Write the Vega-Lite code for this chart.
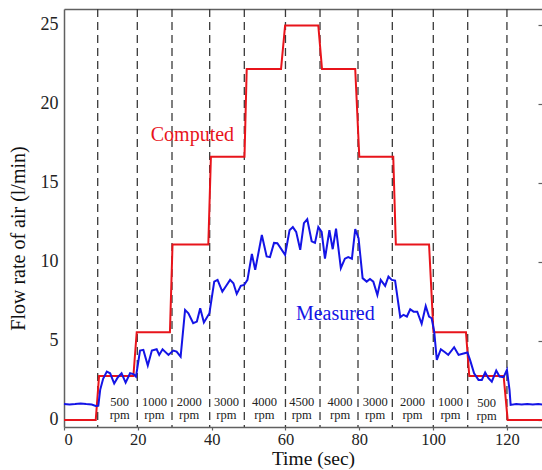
{
  "$schema": "https://vega.github.io/schema/vega-lite/v6.json",
  "width": 478,
  "height": 418,
  "autosize": {"type": "none"},
  "padding": {"left": 64, "top": 9, "right": 0, "bottom": 43},
  "background": "white",
  "config": {"view": {"stroke": null}, "font": "Liberation Serif, Times New Roman, DejaVu Serif, serif"},
  "datasets": {
    "dividers": [
      {"t": 9.13}, {"t": 19.86}, {"t": 29.26}, {"t": 39.47}, {"t": 48.85}, {"t": 60.0},
      {"t": 69.36}, {"t": 79.65}, {"t": 88.95}, {"t": 100.05}, {"t": 109.37}, {"t": 120.0}
    ],
    "series": [
      {"series": "Computed", "t": 0, "v": 0},
      {"series": "Computed", "t": 8.6, "v": 0},
      {"series": "Computed", "t": 9.5, "v": 2.78},
      {"series": "Computed", "t": 18.8, "v": 2.78},
      {"series": "Computed", "t": 19.7, "v": 5.55},
      {"series": "Computed", "t": 28.7, "v": 5.55},
      {"series": "Computed", "t": 29.4, "v": 11.1},
      {"series": "Computed", "t": 39.1, "v": 11.1},
      {"series": "Computed", "t": 39.8, "v": 16.65},
      {"series": "Computed", "t": 48.9, "v": 16.65},
      {"series": "Computed", "t": 49.5, "v": 22.2},
      {"series": "Computed", "t": 58.8, "v": 22.2},
      {"series": "Computed", "t": 59.9, "v": 24.95},
      {"series": "Computed", "t": 68.9, "v": 24.95},
      {"series": "Computed", "t": 69.9, "v": 22.2},
      {"series": "Computed", "t": 78.9, "v": 22.2},
      {"series": "Computed", "t": 80.0, "v": 16.65},
      {"series": "Computed", "t": 89.2, "v": 16.65},
      {"series": "Computed", "t": 89.9, "v": 11.1},
      {"series": "Computed", "t": 98.9, "v": 11.1},
      {"series": "Computed", "t": 100.1, "v": 5.55},
      {"series": "Computed", "t": 108.9, "v": 5.55},
      {"series": "Computed", "t": 109.8, "v": 2.78},
      {"series": "Computed", "t": 119.1, "v": 2.78},
      {"series": "Computed", "t": 120.2, "v": 0},
      {"series": "Computed", "t": 129.5, "v": 0},
      {"series": "Measured", "t": 0, "v": 1.0},
      {"series": "Measured", "t": 1.5, "v": 0.98},
      {"series": "Measured", "t": 3, "v": 1.0},
      {"series": "Measured", "t": 4.5, "v": 1.04},
      {"series": "Measured", "t": 6, "v": 1.0},
      {"series": "Measured", "t": 7.5, "v": 0.97},
      {"series": "Measured", "t": 8.6, "v": 0.88},
      {"series": "Measured", "t": 9.3, "v": 0.9},
      {"series": "Measured", "t": 9.8, "v": 1.9},
      {"series": "Measured", "t": 10.6, "v": 2.6},
      {"series": "Measured", "t": 11.6, "v": 3.06},
      {"series": "Measured", "t": 12.5, "v": 2.95},
      {"series": "Measured", "t": 13.6, "v": 2.3},
      {"series": "Measured", "t": 14.6, "v": 2.7},
      {"series": "Measured", "t": 15.6, "v": 2.95},
      {"series": "Measured", "t": 16.7, "v": 2.36},
      {"series": "Measured", "t": 17.9, "v": 2.95},
      {"series": "Measured", "t": 18.8, "v": 2.9},
      {"series": "Measured", "t": 19.5, "v": 2.74},
      {"series": "Measured", "t": 20.6, "v": 4.39},
      {"series": "Measured", "t": 21.5, "v": 4.43},
      {"series": "Measured", "t": 22.7, "v": 3.44},
      {"series": "Measured", "t": 23.8, "v": 4.39},
      {"series": "Measured", "t": 25.1, "v": 4.47},
      {"series": "Measured", "t": 25.8, "v": 4.11},
      {"series": "Measured", "t": 26.7, "v": 4.47},
      {"series": "Measured", "t": 28.3, "v": 4.11},
      {"series": "Measured", "t": 29.6, "v": 4.39},
      {"series": "Measured", "t": 30.5, "v": 4.32},
      {"series": "Measured", "t": 31.6, "v": 4.0},
      {"series": "Measured", "t": 32.8, "v": 6.96},
      {"series": "Measured", "t": 33.7, "v": 6.75},
      {"series": "Measured", "t": 35.0, "v": 6.12},
      {"series": "Measured", "t": 36.0, "v": 6.22},
      {"series": "Measured", "t": 36.9, "v": 7.07},
      {"series": "Measured", "t": 37.9, "v": 6.16},
      {"series": "Measured", "t": 39.4, "v": 6.75},
      {"series": "Measured", "t": 40.7, "v": 8.75},
      {"series": "Measured", "t": 41.6, "v": 8.86},
      {"series": "Measured", "t": 42.9, "v": 8.12},
      {"series": "Measured", "t": 44.0, "v": 8.5},
      {"series": "Measured", "t": 45.0, "v": 8.86},
      {"series": "Measured", "t": 45.9, "v": 8.65},
      {"series": "Measured", "t": 46.8, "v": 7.97},
      {"series": "Measured", "t": 47.9, "v": 8.48},
      {"series": "Measured", "t": 48.8, "v": 8.54},
      {"series": "Measured", "t": 49.7, "v": 8.86},
      {"series": "Measured", "t": 50.9, "v": 10.5},
      {"series": "Measured", "t": 51.8, "v": 9.49},
      {"series": "Measured", "t": 53.6, "v": 11.7},
      {"series": "Measured", "t": 54.9, "v": 10.34},
      {"series": "Measured", "t": 55.8, "v": 10.3},
      {"series": "Measured", "t": 56.9, "v": 11.2},
      {"series": "Measured", "t": 57.8, "v": 11.18},
      {"series": "Measured", "t": 59.9, "v": 10.44},
      {"series": "Measured", "t": 61.1, "v": 12.0},
      {"series": "Measured", "t": 62.0, "v": 12.2},
      {"series": "Measured", "t": 62.9, "v": 11.9},
      {"series": "Measured", "t": 64.0, "v": 10.76},
      {"series": "Measured", "t": 65.0, "v": 12.45},
      {"series": "Measured", "t": 65.9, "v": 12.7},
      {"series": "Measured", "t": 67.1, "v": 11.3},
      {"series": "Measured", "t": 68.0, "v": 11.2},
      {"series": "Measured", "t": 68.9, "v": 12.2},
      {"series": "Measured", "t": 69.8, "v": 11.9},
      {"series": "Measured", "t": 70.7, "v": 10.2},
      {"series": "Measured", "t": 71.9, "v": 12.0},
      {"series": "Measured", "t": 72.8, "v": 10.8},
      {"series": "Measured", "t": 73.7, "v": 12.1},
      {"series": "Measured", "t": 75.0, "v": 9.6},
      {"series": "Measured", "t": 76.1, "v": 10.2},
      {"series": "Measured", "t": 77.0, "v": 10.3},
      {"series": "Measured", "t": 78.0, "v": 10.2},
      {"series": "Measured", "t": 78.9, "v": 12.07},
      {"series": "Measured", "t": 79.8, "v": 11.5},
      {"series": "Measured", "t": 80.9, "v": 8.97},
      {"series": "Measured", "t": 82.0, "v": 8.75},
      {"series": "Measured", "t": 82.9, "v": 8.92},
      {"series": "Measured", "t": 83.8, "v": 8.75},
      {"series": "Measured", "t": 84.9, "v": 7.9},
      {"series": "Measured", "t": 85.8, "v": 8.86},
      {"series": "Measured", "t": 87.0, "v": 8.48},
      {"series": "Measured", "t": 87.9, "v": 9.07},
      {"series": "Measured", "t": 88.8, "v": 8.86},
      {"series": "Measured", "t": 89.7, "v": 8.82},
      {"series": "Measured", "t": 91.1, "v": 6.5},
      {"series": "Measured", "t": 92.0, "v": 6.65},
      {"series": "Measured", "t": 92.9, "v": 6.54},
      {"series": "Measured", "t": 93.8, "v": 7.0},
      {"series": "Measured", "t": 94.7, "v": 6.85},
      {"series": "Measured", "t": 95.7, "v": 6.85},
      {"series": "Measured", "t": 96.9, "v": 6.08},
      {"series": "Measured", "t": 98.0, "v": 7.2},
      {"series": "Measured", "t": 98.9, "v": 6.54},
      {"series": "Measured", "t": 99.6, "v": 6.43},
      {"series": "Measured", "t": 100.3, "v": 5.59},
      {"series": "Measured", "t": 101.0, "v": 3.8},
      {"series": "Measured", "t": 102.1, "v": 4.47},
      {"series": "Measured", "t": 103.3, "v": 4.26},
      {"series": "Measured", "t": 104.1, "v": 4.11},
      {"series": "Measured", "t": 105.7, "v": 4.6},
      {"series": "Measured", "t": 106.9, "v": 4.11},
      {"series": "Measured", "t": 108.0, "v": 4.18},
      {"series": "Measured", "t": 109.3, "v": 4.26},
      {"series": "Measured", "t": 110.0, "v": 3.8},
      {"series": "Measured", "t": 111.1, "v": 2.95},
      {"series": "Measured", "t": 112.3, "v": 2.53},
      {"series": "Measured", "t": 113.2, "v": 2.53},
      {"series": "Measured", "t": 114.1, "v": 3.0},
      {"series": "Measured", "t": 115.0, "v": 2.64},
      {"series": "Measured", "t": 115.9, "v": 2.42},
      {"series": "Measured", "t": 117.1, "v": 3.12},
      {"series": "Measured", "t": 118.0, "v": 2.74},
      {"series": "Measured", "t": 119.1, "v": 2.7},
      {"series": "Measured", "t": 120.0, "v": 3.16},
      {"series": "Measured", "t": 120.7, "v": 1.9},
      {"series": "Measured", "t": 121.0, "v": 0.95},
      {"series": "Measured", "t": 122.5, "v": 1.0},
      {"series": "Measured", "t": 124.0, "v": 0.97},
      {"series": "Measured", "t": 125.5, "v": 1.0},
      {"series": "Measured", "t": 127.0, "v": 0.98},
      {"series": "Measured", "t": 128.5, "v": 1.0},
      {"series": "Measured", "t": 129.5, "v": 0.98}
    ],
    "rpm": [
      {"t": 15.1, "v": 0.89, "label": "500 rpm"},
      {"t": 24.5, "v": 0.89, "label": "1000 rpm"},
      {"t": 33.9, "v": 0.89, "label": "2000 rpm"},
      {"t": 44.0, "v": 0.89, "label": "3000 rpm"},
      {"t": 54.3, "v": 0.89, "label": "4000 rpm"},
      {"t": 64.4, "v": 0.89, "label": "4500 rpm"},
      {"t": 74.8, "v": 0.89, "label": "4000 rpm"},
      {"t": 84.3, "v": 0.89, "label": "3000 rpm"},
      {"t": 94.4, "v": 0.89, "label": "2000 rpm"},
      {"t": 104.7, "v": 0.89, "label": "1000 rpm"},
      {"t": 114.5, "v": 0.8, "label": "500 rpm"}
    ],
    "notes": [
      {"series": "Computed", "t": 34.8, "v": 18.0},
      {"series": "Measured", "t": 73.5, "v": 6.7}
    ]
  },
  "resolve": {"axis": {"x": "independent", "y": "independent"}},
  "layer": [
    {
      "data": {"name": "dividers"},
      "mark": {"type": "rule", "strokeDash": [8, 5], "color": "#3a3a3a", "strokeWidth": 1.3},
      "encoding": {
        "x": {
          "field": "t", "type": "quantitative",
          "scale": {"domain": [0, 129.5], "nice": false, "zero": false},
          "axis": {
            "orient": "bottom", "values": [0, 20, 40, 60, 80, 100, 120], "grid": false,
            "domainColor": "#606060", "domainWidth": 1.5,
            "tickColor": "#606060", "tickSize": 3, "tickWidth": 1.2,
            "labelFont": "Liberation Serif, Times New Roman, DejaVu Serif, serif", "labelFontSize": 16.5, "labelColor": "#222222", "labelPadding": 1,
            "title": "Time (sec)", "titleFont": "Liberation Serif, Times New Roman, DejaVu Serif, serif", "titleFontSize": 19.5,
            "titleFontWeight": "normal", "titleColor": "#111111",
            "titleX": 249, "titleY": 37.5, "titleBaseline": "alphabetic", "titleAlign": "center"
          }
        }
      }
    },
    {
      "data": {"name": "series"},
      "mark": {"type": "line", "strokeWidth": 2},
      "encoding": {
        "x": {
          "field": "t", "type": "quantitative",
          "scale": {"domain": [0, 129.5], "nice": false, "zero": false},
          "axis": {"orient": "top", "labels": false, "ticks": false, "grid": false, "title": null,
                   "domainColor": "#606060", "domainWidth": 1.5}
        },
        "y": {
          "field": "v", "type": "quantitative",
          "scale": {"domain": [-0.45, 26.0], "nice": false, "zero": false},
          "axis": {
            "orient": "left", "values": [0, 5, 10, 15, 20, 25], "grid": false,
            "domainColor": "#606060", "domainWidth": 1.5, "ticks": false,
            "labelFont": "Liberation Serif, Times New Roman, DejaVu Serif, serif", "labelFontSize": 18, "labelColor": "#222222", "labelPadding": 6,
            "title": "Flow rate of air (l/min)", "titleFont": "Liberation Serif, Times New Roman, DejaVu Serif, serif", "titleFontSize": 20,
            "titleFontWeight": "normal", "titleColor": "#111111",
            "titleX": -39.5, "titleY": 229, "titleBaseline": "alphabetic", "titleAlign": "center"
          }
        },
        "color": {
          "field": "series", "type": "nominal",
          "scale": {"domain": ["Computed", "Measured"], "range": ["#e8141b", "#1414e6"]},
          "legend": null
        },
        "order": {"field": "t", "type": "quantitative"}
      }
    },
    {
      "data": {"name": "rpm"},
      "mark": {"type": "text", "font": "Liberation Serif, Times New Roman, DejaVu Serif, serif", "fontSize": 12.5, "lineBreak": " ", "lineHeight": 13,
               "align": "center", "baseline": "alphabetic", "color": "#222222"},
      "encoding": {
        "x": {"field": "t", "type": "quantitative", "scale": {"domain": [0, 129.5], "nice": false, "zero": false}, "axis": null},
        "y": {
          "field": "v", "type": "quantitative",
          "scale": {"domain": [-0.45, 26.0], "nice": false, "zero": false},
          "axis": {"orient": "right", "values": [0, 5, 10, 15, 20, 25], "domain": false, "labels": false,
                   "grid": false, "title": null, "tickSize": -4, "tickColor": "#606060", "tickWidth": 1.2}
        },
        "text": {"field": "label", "type": "nominal"}
      }
    },
    {
      "data": {"name": "notes"},
      "mark": {"type": "text", "font": "Liberation Serif, Times New Roman, DejaVu Serif, serif", "fontSize": 20, "align": "center", "baseline": "middle"},
      "encoding": {
        "x": {"field": "t", "type": "quantitative", "scale": {"domain": [0, 129.5], "nice": false, "zero": false}, "axis": null},
        "y": {"field": "v", "type": "quantitative", "scale": {"domain": [-0.45, 26.0], "nice": false, "zero": false}, "axis": null},
        "color": {
          "field": "series", "type": "nominal",
          "scale": {"domain": ["Computed", "Measured"], "range": ["#e8141b", "#1414e6"]},
          "legend": null
        },
        "text": {"field": "series", "type": "nominal"}
      }
    }
  ]
}
